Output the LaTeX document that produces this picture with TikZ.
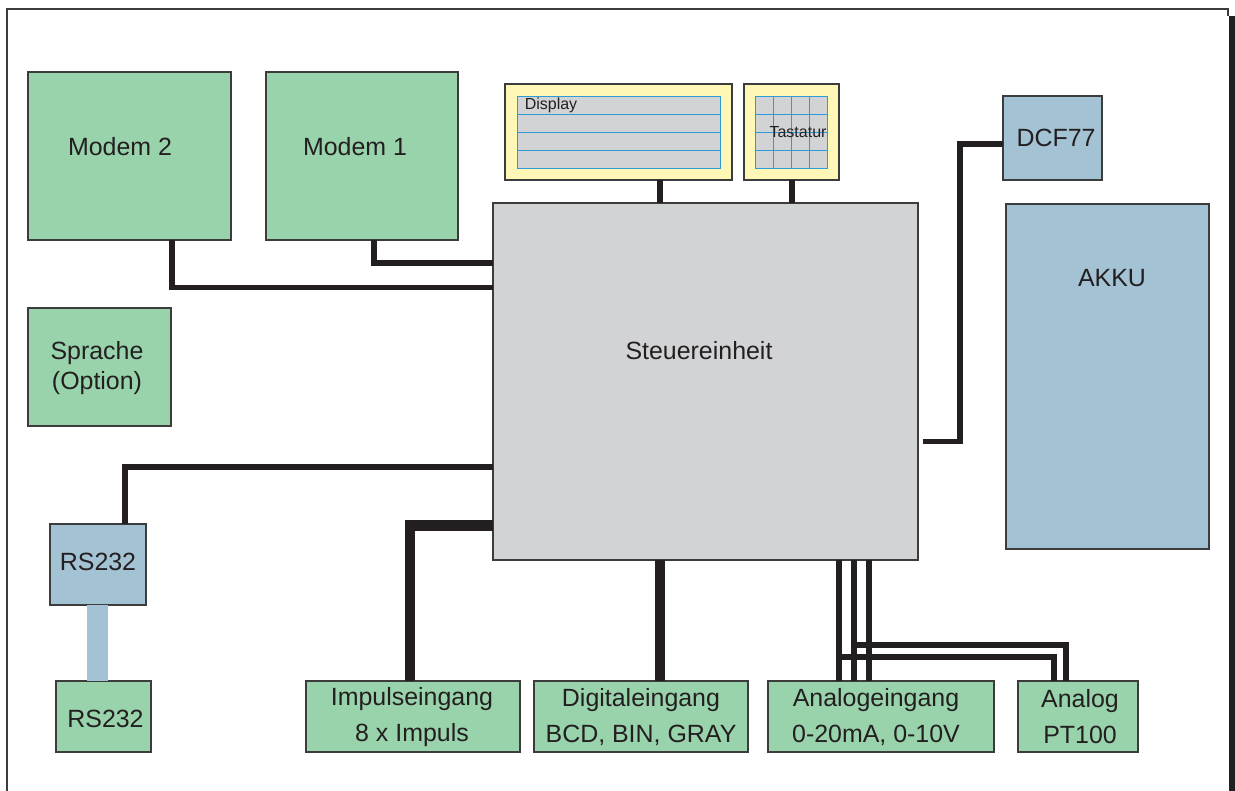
\documentclass[tikz,border=0pt]{standalone}
\usepackage{fontspec}
\setmainfont{Liberation Sans}
\usetikzlibrary{fit,calc}
\definecolor{bgreen}{HTML}{99D3AC}
\definecolor{bblue}{HTML}{A3C2D3}
\definecolor{bgray}{HTML}{D1D3D5}
\definecolor{byellow}{HTML}{FFF7B5}
\definecolor{ink}{HTML}{231F20}
\definecolor{gridblue}{HTML}{2D9BD8}
\definecolor{edge}{HTML}{3C3C3C}
\tikzset{
  boxbase/.style={draw=edge, line width=0.9pt, inner sep=0pt, outer sep=0pt},
  greenbox/.style={boxbase, fill=bgreen},
  bluebox/.style={boxbase, fill=bblue},
  graybox/.style={boxbase, fill=bgray},
  yellowbox/.style={boxbase, fill=byellow},
  screen/.style={draw=gridblue, line width=0.7pt, fill=bgray, inner sep=0pt, outer sep=0pt},
  gridline/.style={draw=gridblue, line width=0.7pt},
  wire/.style={draw=ink, line width=3.9pt, line join=miter, line cap=butt},
  heavywire/.style={draw=ink, line width=7.8pt, line join=miter, line cap=butt},
  linkbar/.style={draw=bblue, line width=15.75pt, line cap=butt},
  lbl/.style={text=ink, font=\fontsize{18.7}{27}\selectfont, align=center, inner sep=0pt},
  tightlbl/.style={lbl, font=\fontsize{18.7}{22.5}\selectfont},
  smalllbl/.style={text=ink, font=\fontsize{12}{14}\selectfont, inner sep=0pt},
  frameline/.style={draw=edge, line width=0.9pt}
}
\begin{document}
\begin{tikzpicture}[x=0.75pt,y=-0.75pt]
\useasboundingbox (0,0) rectangle (1235,791);
% outer frame
\draw[frameline] (7,791) -- (7,9) -- (1228,9) -- (1228,16);
\fill[ink] (1229,16) rectangle (1235,791);

% boxes
\node[greenbox, fit={(28,72) (231,240)}] (m2) {};
\node[greenbox, fit={(266,72) (458,240)}] (m1) {};
\node[greenbox, fit={(28,308) (171,426)}] (spr) {};
\node[yellowbox, fit={(505,84) (732,180)}] (disp) {};
\node[screen, fit={(517,96) (720,168)}] (dispin) {};
\node[yellowbox, fit={(744,84) (839,180)}] (tast) {};
\node[screen, fit={(755,96) (827,168)}] (tastin) {};
\node[graybox, fit={(493,203) (918,560)}] (steu) {};
\node[bluebox, fit={(1003,96) (1102,180)}] (dcf) {};
\node[bluebox, fit={(1006,204) (1209,549)}] (akku) {};
\node[bluebox, fit={(50,524) (146,605)}] (rsb) {};
\node[greenbox, fit={(56,681) (151,752)}] (rsg) {};
\node[greenbox, fit={(306,681) (520,752)}] (imp) {};
\node[greenbox, fit={(534,681) (748,752)}] (dig) {};
\node[greenbox, fit={(768,681) (994,752)}] (ana) {};
\node[greenbox, fit={(1018,681) (1138,752)}] (pt) {};

% display grid
\foreach \y in {114,132,150} {
  \draw[gridline] (dispin.west |- 0,\y) -- (dispin.east |- 0,\y);
  \draw[gridline] (tastin.west |- 0,\y) -- (tastin.east |- 0,\y);
}
\foreach \x in {773,791,809} {
  \draw[gridline] (tastin.north -| \x,0) -- (tastin.south -| \x,0);
}

% labels
\node[lbl] at (120,147) {Modem 2};
\node[lbl] at (355,147) {Modem 1};
\node[tightlbl] at (97,368) {Sprache\\(Option)};
\node[smalllbl] at (551,105) {Display};
\node[smalllbl] at (798,132) {Tastatur};
\node[lbl] at (699,351) {Steuereinheit};
\node[lbl] at (1056,138) {DCF77};
\node[lbl] at (1112,278) {AKKU};
\node[lbl] at (98,562) {RS232};
\node[lbl] at (105.5,719) {RS232};
\node[lbl] at (412,717) {Impulseingang\\8 x Impuls};
\node[lbl] at (641,717) {Digitaleingang\\BCD, BIN, GRAY};
\node[lbl] at (876,717) {Analogeingang\\0-20mA, 0-10V};
\node[lbl] at (1080,717) {Analog\\PT100};

% connectors
\coordinate (cd) at (660,180);
\draw[wire] (cd) -- (cd |- steu.north);
\coordinate (ct) at (792,180);
\draw[wire] (ct) -- (ct |- steu.north);

\coordinate (cdcf1) at (923,441.5);
\coordinate (cdcf2) at (960,144);
\draw[wire] (cdcf1) -| (cdcf2) -- (cdcf2 -| dcf.west);

\coordinate (cm2) at (172,240);
\coordinate (cm2b) at (172,287.5);
\draw[wire] (cm2) -- (cm2b) -- (cm2b -| steu.west);
\coordinate (cm1) at (374,240);
\coordinate (cm1b) at (374,263);
\draw[wire] (cm1) -- (cm1b) -- (cm1b -| steu.west);

\coordinate (crs) at (493,467);
\coordinate (crsb) at (125,467);
\draw[wire] (crs) -- (crsb) -- (crsb |- rsb.north);

\coordinate (clink) at (97.5,605);
\draw[linkbar] (clink) -- (clink |- rsg.north);

\coordinate (cimp) at (493,525.5);
\coordinate (cimpb) at (410,525.5);
\draw[heavywire] (cimp) -- (cimpb) -- (cimpb |- imp.north);

\coordinate (cdig) at (660,560);
\draw[heavywire] (cdig) -- (cdig |- dig.north);

\coordinate (ca1) at (839,560);
\coordinate (ca2) at (854,560);
\coordinate (ca3) at (869,560);
\draw[wire] (ca1) -- (ca1 |- ana.north);
\draw[wire] (ca2) -- (ca2 |- ana.north);
\draw[wire] (ca3) -- (ca3 |- ana.north);
\coordinate (cp1) at (1054,657);
\coordinate (cp2) at (1066,645);
\draw[wire] (ca1 |- cp1) -- (cp1) -- (cp1 |- pt.north);
\draw[wire] (ca2 |- cp2) -- (cp2) -- (cp2 |- pt.north);
\end{tikzpicture}
\end{document}
